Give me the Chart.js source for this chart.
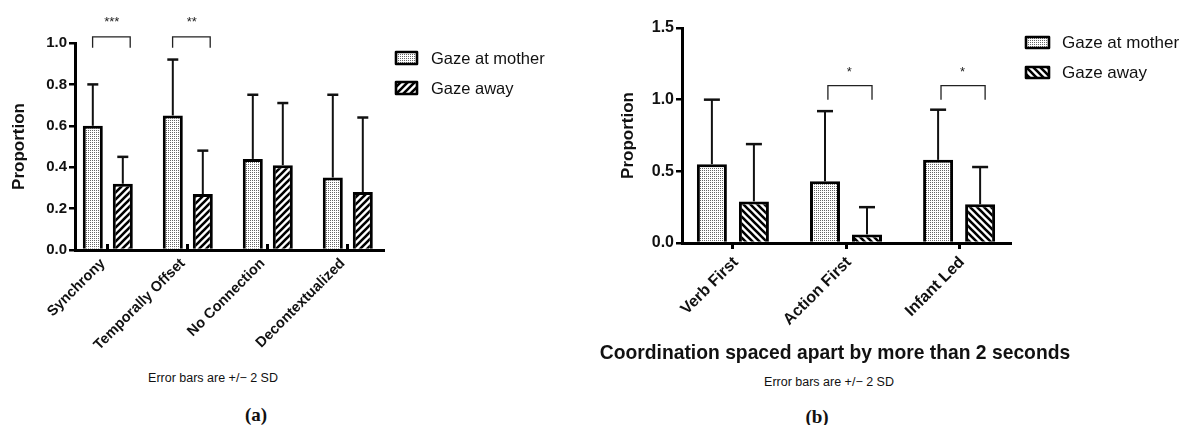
<!DOCTYPE html>
<html><head><meta charset="utf-8">
<script src="https://cdn.jsdelivr.net/npm/chart.js@4.4.0/dist/chart.umd.min.js"></script>
<style>
html,body{margin:0;padding:0;background:#fff;width:1182px;height:425px;overflow:hidden;font-family:"Liberation Sans",Arial,sans-serif;}
canvas{position:absolute;top:0;}
#ca{left:0}
#cb{left:560px}
.t{position:absolute;white-space:nowrap;transform:translate(-50%,-50%);color:#111;line-height:1}
.cap{font-family:"Liberation Serif","DejaVu Serif",serif;font-weight:bold;font-size:19px}
</style></head><body>
<canvas id="ca" width="560" height="368"></canvas>
<canvas id="cb" width="622" height="368"></canvas>
<div class="t" style="left:213px;top:378px;font-size:12.5px">Error bars are +/− 2 SD</div>
<div class="t cap" style="left:256px;top:414px">(a)</div>
<div class="t" style="left:835px;top:353px;font-size:19.3px;font-weight:bold">Coordination spaced apart by more than 2 seconds</div>
<div class="t" style="left:829px;top:382px;font-size:12.5px">Error bars are +/− 2 SD</div>
<div class="t cap" style="left:817px;top:416px">(b)</div>
<script>
// ---------- data ----------
const seriesNames = ['Gaze at mother', 'Gaze away'];

const catsA = ['Synchrony', 'Temporally Offset', 'No Connection', 'Decontextualized'];
const motherA = [0.60, 0.65, 0.44, 0.35];
const motherA2SD = [0.20, 0.27, 0.31, 0.40];
const awayA = [0.32, 0.27, 0.41, 0.28];
const awayA2SD = [0.13, 0.21, 0.30, 0.36];
const yTicksA = [0.0, 0.2, 0.4, 0.6, 0.8, 1.0];
const sigA = [{cat: 0, label: '***'}, {cat: 1, label: '**'}];

const catsB = ['Verb First', 'Action First', 'Infant Led'];
const motherB = [0.55, 0.43, 0.58];
const motherB2SD = [0.45, 0.49, 0.35];
const awayB = [0.29, 0.06, 0.27];
const awayB2SD = [0.40, 0.19, 0.26];
const yTicksB = [0.0, 0.5, 1.0, 1.5];
const sigB = [{cat: 1, label: '*'}, {cat: 2, label: '*'}];

// ---------- patterns ----------
function dotPattern() {
  const c = document.createElement('canvas'); c.width = 2; c.height = 2;
  const x = c.getContext('2d');
  x.fillStyle = '#fff'; x.fillRect(0, 0, 2, 2);
  x.fillStyle = '#666'; x.fillRect(0, 0, 1, 1);
  return x.createPattern(c, 'repeat');
}
function hatchPattern(dir) {
  const s = 7;
  const c = document.createElement('canvas'); c.width = s; c.height = s;
  const x = c.getContext('2d');
  x.fillStyle = '#fff'; x.fillRect(0, 0, s, s);
  x.strokeStyle = '#000'; x.lineWidth = 2.6; x.lineCap = 'square';
  x.beginPath();
  for (const k of [-s, 0, s]) {
    if (dir > 0) { x.moveTo(k - 1, s + 1); x.lineTo(k + s + 1, -1); }
    else { x.moveTo(k - 1, -1); x.lineTo(k + s + 1, s + 1); }
  }
  x.stroke();
  return x.createPattern(c, 'repeat');
}

// ---------- plugins ----------
const errorBars = {
  id: 'errorBars',
  afterDatasetsDraw(chart, args, opts) {
    const ctx = chart.ctx, ys = chart.scales.y;
    chart.data.datasets.forEach((ds, i) => {
      const meta = chart.getDatasetMeta(i);
      meta.data.forEach((bar, j) => {
        const yt = ys.getPixelForValue(ds.data[j].y + ds.err[j]);
        ctx.save();
        ctx.strokeStyle = '#111';
        ctx.lineWidth = opts.lineWidth;
        ctx.beginPath(); ctx.moveTo(bar.x, bar.y); ctx.lineTo(bar.x, yt); ctx.stroke();
        ctx.lineWidth = opts.capLineWidth;
        ctx.beginPath(); ctx.moveTo(bar.x - opts.cap / 2, yt); ctx.lineTo(bar.x + opts.cap / 2, yt); ctx.stroke();
        ctx.restore();
      });
    });
  }
};
const sigMarks = {
  id: 'sigMarks',
  afterDraw(chart, args, opts) {
    const xs = chart.scales.x, ys = chart.scales.y, ctx = chart.ctx;
    (opts.items || []).forEach(it => {
      const x1 = xs.getPixelForValue(it.cat + opts.from), x2 = xs.getPixelForValue(it.cat + opts.to);
      const yb = ys.getPixelForValue(opts.level), yl = ys.getPixelForValue(opts.legLevel);
      ctx.save();
      ctx.strokeStyle = '#222'; ctx.lineWidth = 1.3;
      ctx.beginPath(); ctx.moveTo(x1, yl); ctx.lineTo(x1, yb); ctx.lineTo(x2, yb); ctx.lineTo(x2, yl); ctx.stroke();
      ctx.fillStyle = '#222'; ctx.font = opts.font; ctx.textAlign = 'center'; ctx.textBaseline = 'middle';
      ctx.fillText(it.label, xs.getPixelForValue(it.cat + opts.starOffset), ys.getPixelForValue(opts.starLevel));
      ctx.restore();
    });
  }
};
const boxLegend = {
  id: 'boxLegend',
  afterDraw(chart, args, opts) {
    const ctx = chart.ctx;
    chart.data.datasets.forEach((ds, i) => {
      const bx = opts.x, by = opts.y + i * opts.step;
      ctx.save();
      ctx.fillStyle = ds.backgroundColor; ctx.fillRect(bx, by, opts.boxW, opts.boxH);
      ctx.strokeStyle = '#000'; ctx.lineWidth = 2.6; ctx.lineJoin = 'round';
      ctx.strokeRect(bx, by, opts.boxW, opts.boxH);
      ctx.fillStyle = '#111'; ctx.font = opts.font; ctx.textBaseline = 'middle'; ctx.textAlign = 'left';
      ctx.fillText(ds.label, bx + opts.boxW + opts.gap, by + opts.boxH / 2 + 1);
      ctx.restore();
    });
  }
};

Chart.defaults.font.family = '"Liberation Sans", Arial, Helvetica, sans-serif';
Chart.defaults.color = '#111';

function makeChart(id, p) {
  const toPts = arr => arr.map((v, i) => ({x: i, y: v}));
  return new Chart(document.getElementById(id), {
    type: 'bar',
    data: {
      datasets: [
        {label: seriesNames[0], data: toPts(p.mother), err: p.motherErr, backgroundColor: dotPattern(),
         borderColor: '#000', borderWidth: 3, categoryPercentage: p.catPct, barPercentage: p.barPct},
        {label: seriesNames[1], data: toPts(p.away), err: p.awayErr, backgroundColor: hatchPattern(p.hatchDir),
         borderColor: '#000', borderWidth: 3, categoryPercentage: p.catPct, barPercentage: p.barPct}
      ]
    },
    options: {
      responsive: false, animation: false, events: [],
      layout: {padding: p.padding},
      plugins: {
        legend: {display: false}, tooltip: {enabled: false},
        errorBars: {lineWidth: 2, capLineWidth: 2.5, cap: p.cap},
        sigMarks: Object.assign({items: p.sig, font: '13px "Liberation Sans", Arial'}, p.sigOpts),
        boxLegend: p.legend
      },
      scales: {
        x: {
          type: 'linear', min: p.xMin, max: p.xMax, offset: false,
          afterBuildTicks: s => { s.ticks = p.cats.map((c, i) => ({value: i})); },
          afterFit: s => { s.height = p.xHeight; },
          ticks: {autoSkip: false, minRotation: 45, maxRotation: 45, padding: p.xPad, labelOffset: p.labelOffset,
                  font: {size: p.xFont, weight: 'bold'}, color: '#111',
                  callback: v => p.cats[v]},
          grid: {display: true, offset: false, drawOnChartArea: false, drawTicks: true, tickLength: p.xTick, lineWidth: 3, color: '#000'},
          border: {display: true, width: 3, color: '#000'}
        },
        y: {
          min: 0, max: p.yTicks[p.yTicks.length - 1],
          afterBuildTicks: s => { s.ticks = p.yTicks.map(v => ({value: v})); },
          afterFit: s => { s.width = p.yWidth; },
          ticks: {padding: 2, font: {size: p.yFont, weight: 'bold'}, color: '#111', callback: v => v.toFixed(1)},
          grid: {display: true, drawOnChartArea: false, drawTicks: true, tickLength: 6, lineWidth: 2.5, color: '#000'},
          border: {display: true, width: 3, color: '#000'},
          title: {display: true, text: 'Proportion', font: {size: 17, weight: 'bold'}, color: '#111', padding: {top: p.titlePad, bottom: 0}}
        }
      }
    },
    plugins: [errorBars, sigMarks, boxLegend]
  });
}

makeChart('ca', {
  cats: catsA, mother: motherA, motherErr: motherA2SD, away: awayA, awayErr: awayA2SD,
  yTicks: yTicksA, sig: sigA, hatchDir: 1,
  xMin: -0.41, xMax: 3.44, catPct: 0.75, barPct: 0.667, cap: 11,
  padding: {left: 0, top: 43, right: 177, bottom: 0},
  xHeight: 118, yWidth: 75, xPad: 11, xTick: -6, labelOffset: -5, titlePad: 9, xFont: 14.5, yFont: 15,
  sigOpts: {from: -0.19, to: 0.28, level: 1.03, legLevel: 0.977, starOffset: 0.05, starLevel: 1.10},
  legend: {x: 396, y: 52, step: 30, boxW: 21, boxH: 12, gap: 14, font: '16.5px "Liberation Sans", Arial'}
});
makeChart('cb', {
  cats: catsB, mother: motherB, motherErr: motherB2SD, away: awayB, awayErr: awayB2SD,
  yTicks: yTicksB, sig: sigB, hatchDir: -1,
  xMin: -0.45, xMax: 2.45, catPct: 0.743, barPct: 0.714, cap: 16,
  padding: {left: 50, top: 28, right: 172, bottom: 0},
  xHeight: 125, yWidth: 72, xPad: 4, xTick: 6, labelOffset: 3, titlePad: 8, xFont: 16, yFont: 16,
  sigOpts: {from: -0.16, to: 0.23, level: 1.098, legLevel: 1.0, starOffset: 0.03, starLevel: 1.19},
  legend: {x: 466, y: 37, step: 30, boxW: 23, boxH: 11, gap: 13, font: '17px "Liberation Sans", Arial'}
});
</script>
</body></html>
